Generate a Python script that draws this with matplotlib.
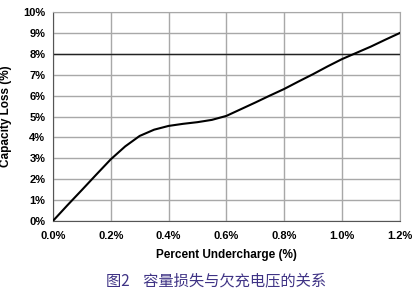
import matplotlib
matplotlib.use("Agg")
import matplotlib.pyplot as plt
import numpy as np

# data (percent undercharge vs capacity loss, both in %)
undercharge = [0, 0.05, 0.1, 0.15, 0.2, 0.25, 0.3, 0.35, 0.4, 0.45, 0.5, 0.55, 0.6,
               0.65, 0.7, 0.75, 0.8, 0.85, 0.9, 0.95, 1.0, 1.05, 1.1, 1.15, 1.2]
capacity_loss = [0, 0.75, 1.48, 2.22, 2.95, 3.57, 4.07, 4.37, 4.55, 4.65, 4.73, 4.84, 5.03,
                 5.35, 5.67, 6.0, 6.32, 6.68, 7.03, 7.4, 7.75, 8.05, 8.35, 8.68, 9.0]
x_ticks = [0, 0.2, 0.4, 0.6, 0.8, 1.0, 1.2]
x_labels = ["0.0%", "0.2%", "0.4%", "0.6%", "0.8%", "1.0%", "1.2%"]
y_ticks = list(range(0, 11))
y_labels = [f"{v}%" for v in y_ticks]
highlight_y = 8
x_title = "Percent Undercharge (%)"
y_title = "Capacity Loss (%)"
caption = "图2    容量损失与欠充电压的关系"

plt.rcParams['font.family'] = ['Liberation Sans', 'DejaVu Sans']

fig = plt.figure(figsize=(4.2, 2.95), dpi=100)
ax = fig.add_axes([0.126, 0.251, 0.826, 0.708])

ax.plot(undercharge, capacity_loss, color="black", lw=1.5, zorder=3)
ax.set_xlim(0, 1.2)
ax.set_ylim(0, 10)
ax.set_xticks(x_ticks)
ax.set_xticklabels(x_labels)
ax.set_yticks(y_ticks)
ax.set_yticklabels(y_labels)
ax.grid(True, color="#a8a8a8", lw=1.0)
ax.axhline(highlight_y, color="#222222", lw=1.0, zorder=2)
ax.tick_params(axis="x", length=0, labelsize=8, pad=7)
ax.tick_params(axis="y", length=0, labelsize=8, pad=5.5)
for lab in ax.get_xticklabels() + ax.get_yticklabels():
    lab.set_fontweight("bold")
for s in ["top", "right"]:
    ax.spines[s].set_color("#a8a8a8")
for s in ["left", "bottom"]:
    ax.spines[s].set_color("#555555")
ax.set_xlabel(x_title, fontsize=8.5, fontweight="bold", labelpad=6)
ax.set_ylabel(y_title, fontsize=8.5, fontweight="bold")
ax.yaxis.set_label_coords(-0.118, 0.5)

fig.text(0.515, 0.047, caption, fontsize=11, color="#3f3385",
         family=['Noto Sans CJK SC', 'DejaVu Sans'], ha="center", va="center")

fig.savefig("out.png", dpi=100)
